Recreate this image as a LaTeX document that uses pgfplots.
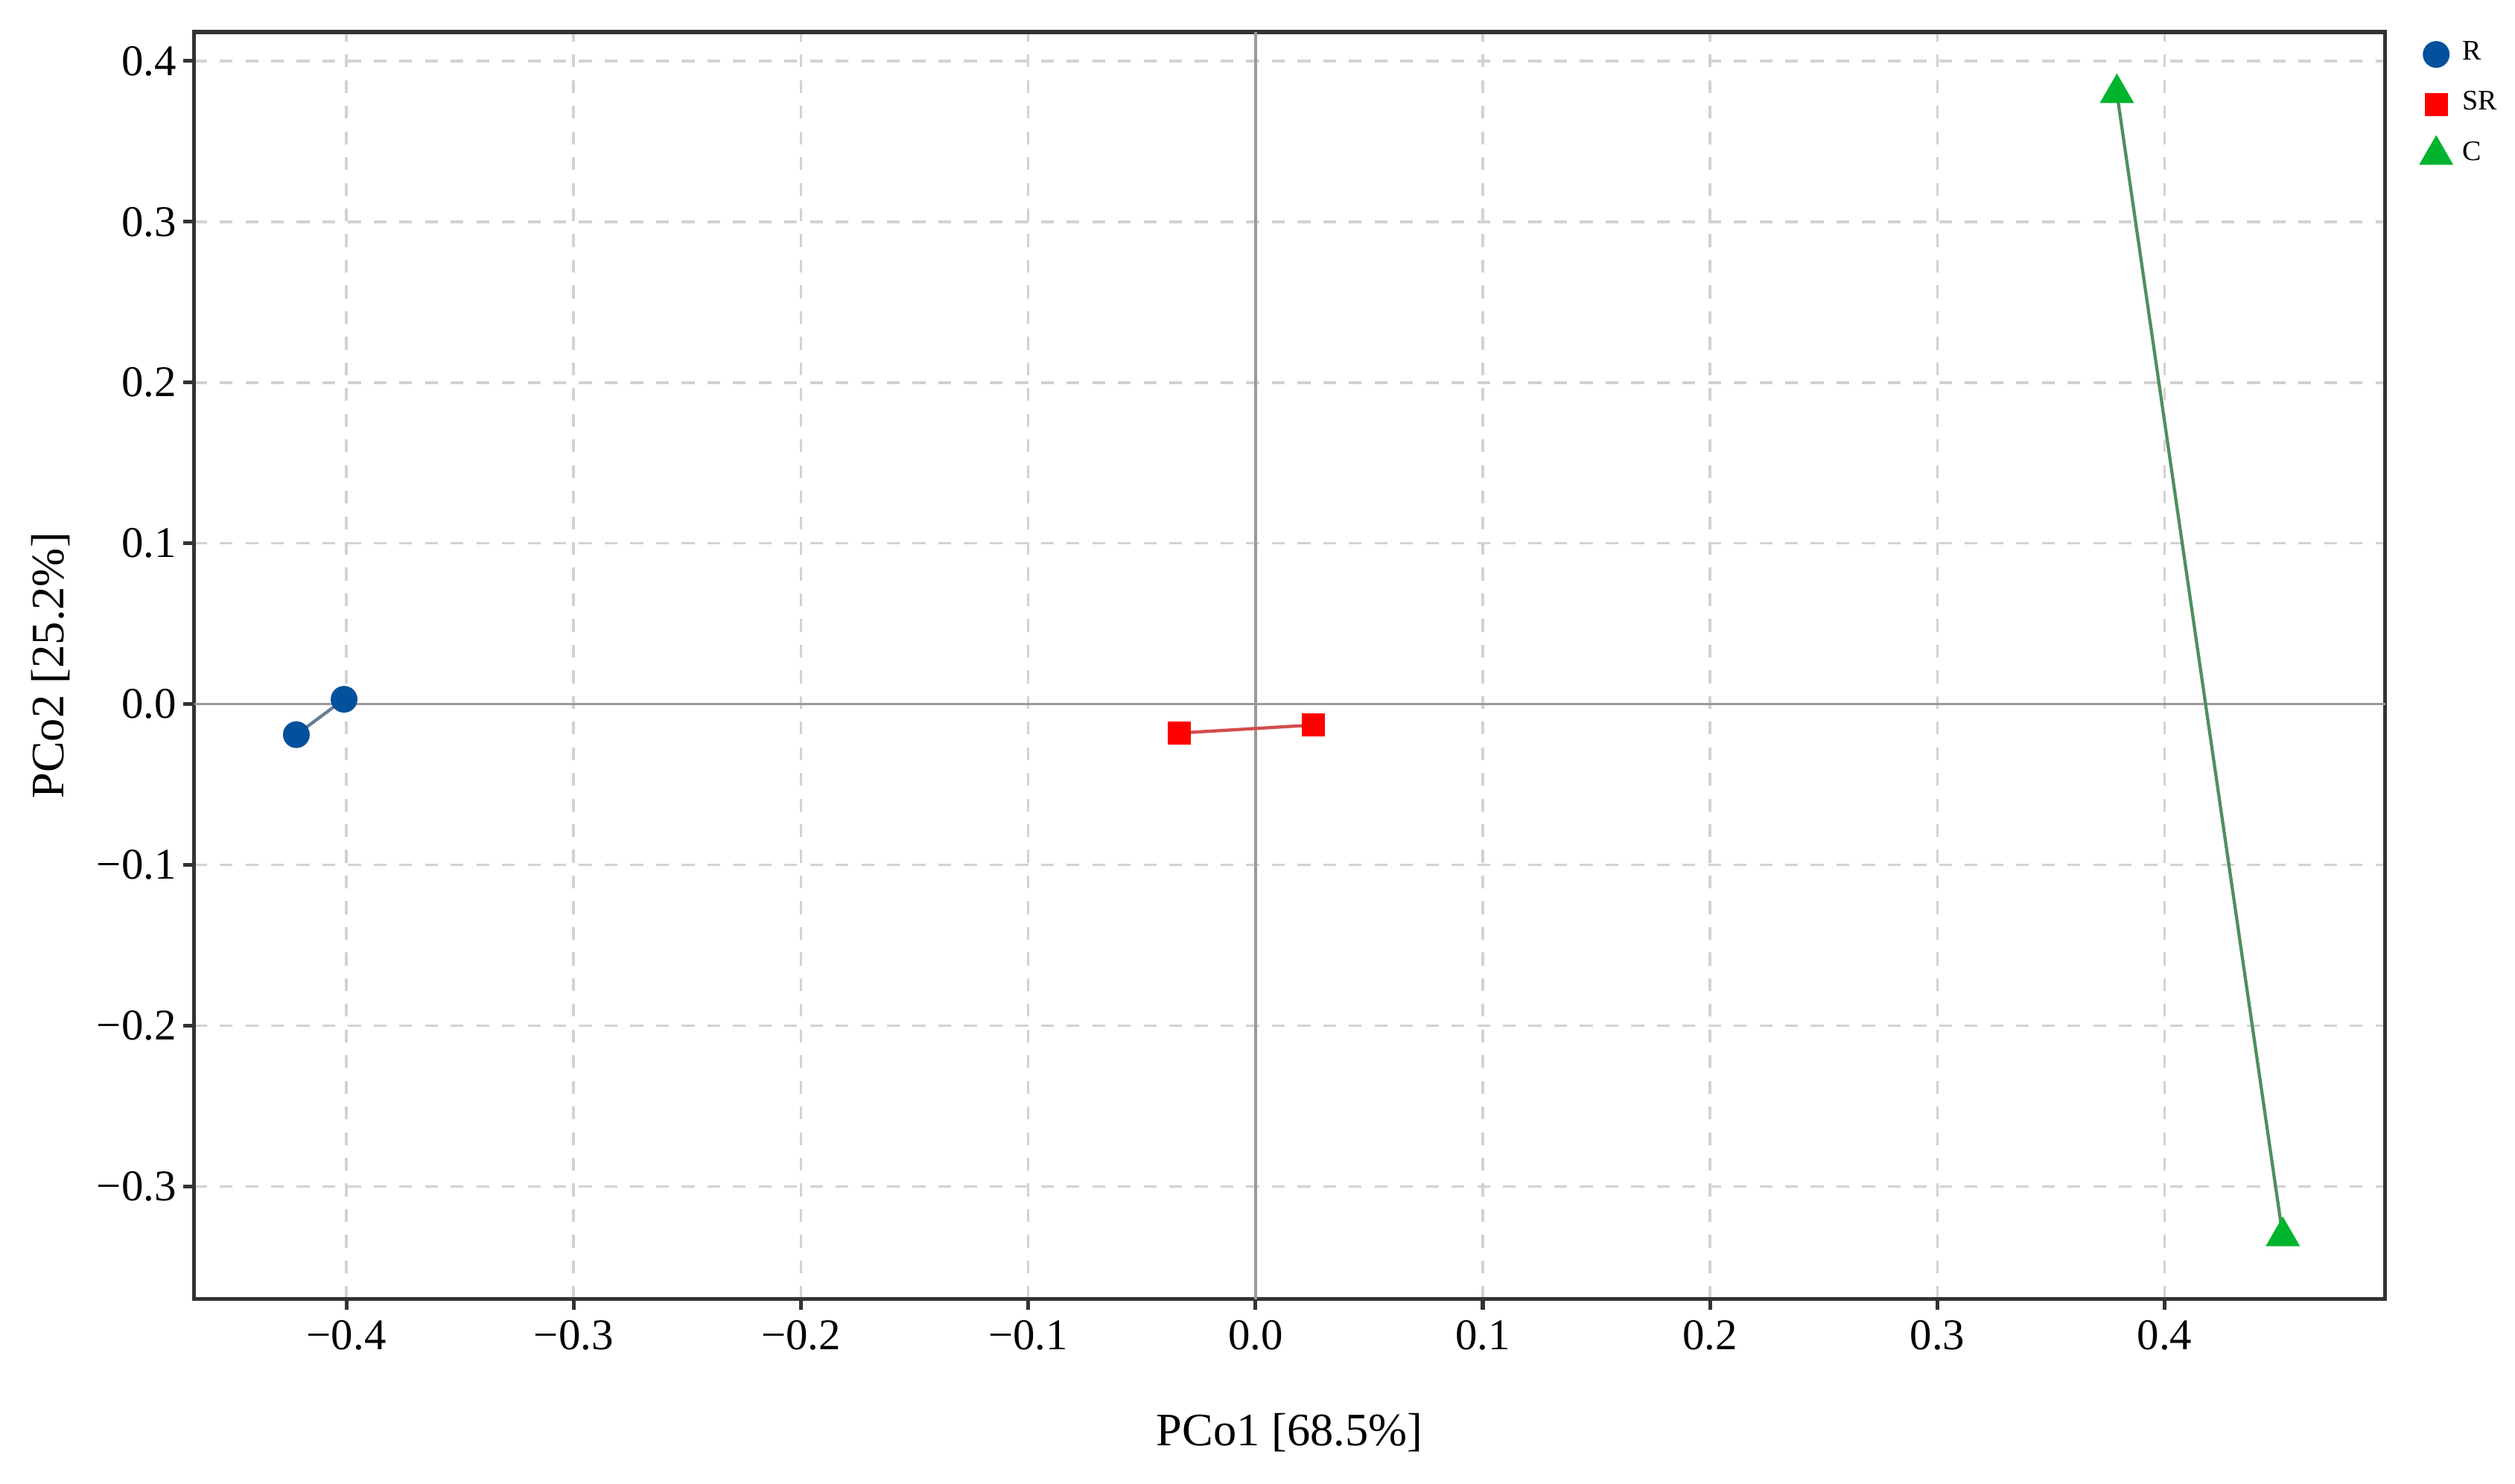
\documentclass[border=0pt]{standalone}
\usepackage{fontspec}
\setmainfont{Liberation Serif}
\usepackage{pgfplots}
\pgfplotsset{compat=1.18}
\definecolor{rcol}{HTML}{03509C}
\definecolor{srcol}{HTML}{FF0000}
\definecolor{ccol}{HTML}{00B42E}
\definecolor{rline}{HTML}{6A7D92}
\definecolor{srline}{HTML}{D24C4C}
\definecolor{cline}{HTML}{4F8F5E}
\definecolor{gridc}{HTML}{D2D2D2}
\definecolor{zeroc}{HTML}{9A9A9A}
\definecolor{frame}{HTML}{333333}

\begin{document}
\begin{tikzpicture}
\begin{axis}[name=ax,
  scale only axis, width=409.8pt, height=237pt,
  xmin=-0.467, xmax=0.497, ymin=-0.370, ymax=0.418,
  axis line style={draw=frame, line width=0.8pt},
  xtick={-0.4,-0.3,...,0.41}, xticklabels={−0.4,−0.3,−0.2,−0.1,0.0,0.1,0.2,0.3,0.4},
  ytick={-0.3,-0.2,...,0.41}, yticklabels={−0.3,−0.2,−0.1,0.0,0.1,0.2,0.3,0.4},
  tick align=outside, tick pos=left, major tick length=2pt,
  tick style={draw=frame, line width=0.7pt},
  ticklabel style={font=\fontsize{8.2}{10}\selectfont, text=black},
  xticklabel style={yshift=1.5pt}, yticklabel style={xshift=2.2pt},
  grid=major, grid style={draw=gridc, dashed, line width=0.5pt, dash pattern=on 2.4pt off 2.4pt},
  extra x ticks={0}, extra x tick labels={}, extra y ticks={0}, extra y tick labels={},
  extra tick style={grid=major, major grid style={draw=zeroc, solid, line width=0.5pt}, major tick length=0pt},
  xlabel={PCo1 [68.5\%]}, ylabel={PCo2 [25.2\%]},
  label style={font=\fontsize{8.7}{10}\selectfont},
  xlabel style={yshift=-3pt}, ylabel style={yshift=-3.8pt},
  legend style={at={(rel axis cs:1,1)}, anchor=north west, xshift=5.5pt, yshift=1.5pt,
    draw=none, fill=none, font=\fontsize{5.3}{6}\selectfont, row sep=0.4pt,
    inner sep=1pt},
  legend cell align=left,
  clip=false,
]
% segments joining the two samples of each group
\addplot[rline, line width=0.6pt, forget plot] coordinates {(-0.422,-0.019) (-0.401,0.003)};
\addplot[srline, line width=0.6pt, forget plot] coordinates {(-0.0335,-0.018) (0.0254,-0.013)};
\addplot[cline, line width=0.6pt, forget plot] coordinates {(0.379,0.380) (0.452,-0.331)};
% samples
\addplot[only marks, mark=*, mark size=2.3pt, mark options={draw=none, fill=rcol}, color=rcol]
  coordinates {(-0.422,-0.019) (-0.401,0.003)};
\addlegendentry{R}
\addplot[only marks, mark=square*, mark size=1.95pt, mark options={draw=none, fill=srcol}, color=srcol]
  coordinates {(-0.0335,-0.018) (0.0254,-0.013)};
\addlegendentry{SR}
\addplot[only marks, mark=triangle*, mark size=3.3pt, mark options={draw=none, fill=ccol}, color=ccol]
  coordinates {(0.379,0.380) (0.452,-0.331)};
\addlegendentry{C}
\end{axis}
\pgfresetboundingbox
\path[use as bounding box] ([shift={(-36.3pt,-34.5pt)}]ax.south west) rectangle ([shift={(24.3pt,6pt)}]ax.north east);
\end{tikzpicture}
\end{document}
